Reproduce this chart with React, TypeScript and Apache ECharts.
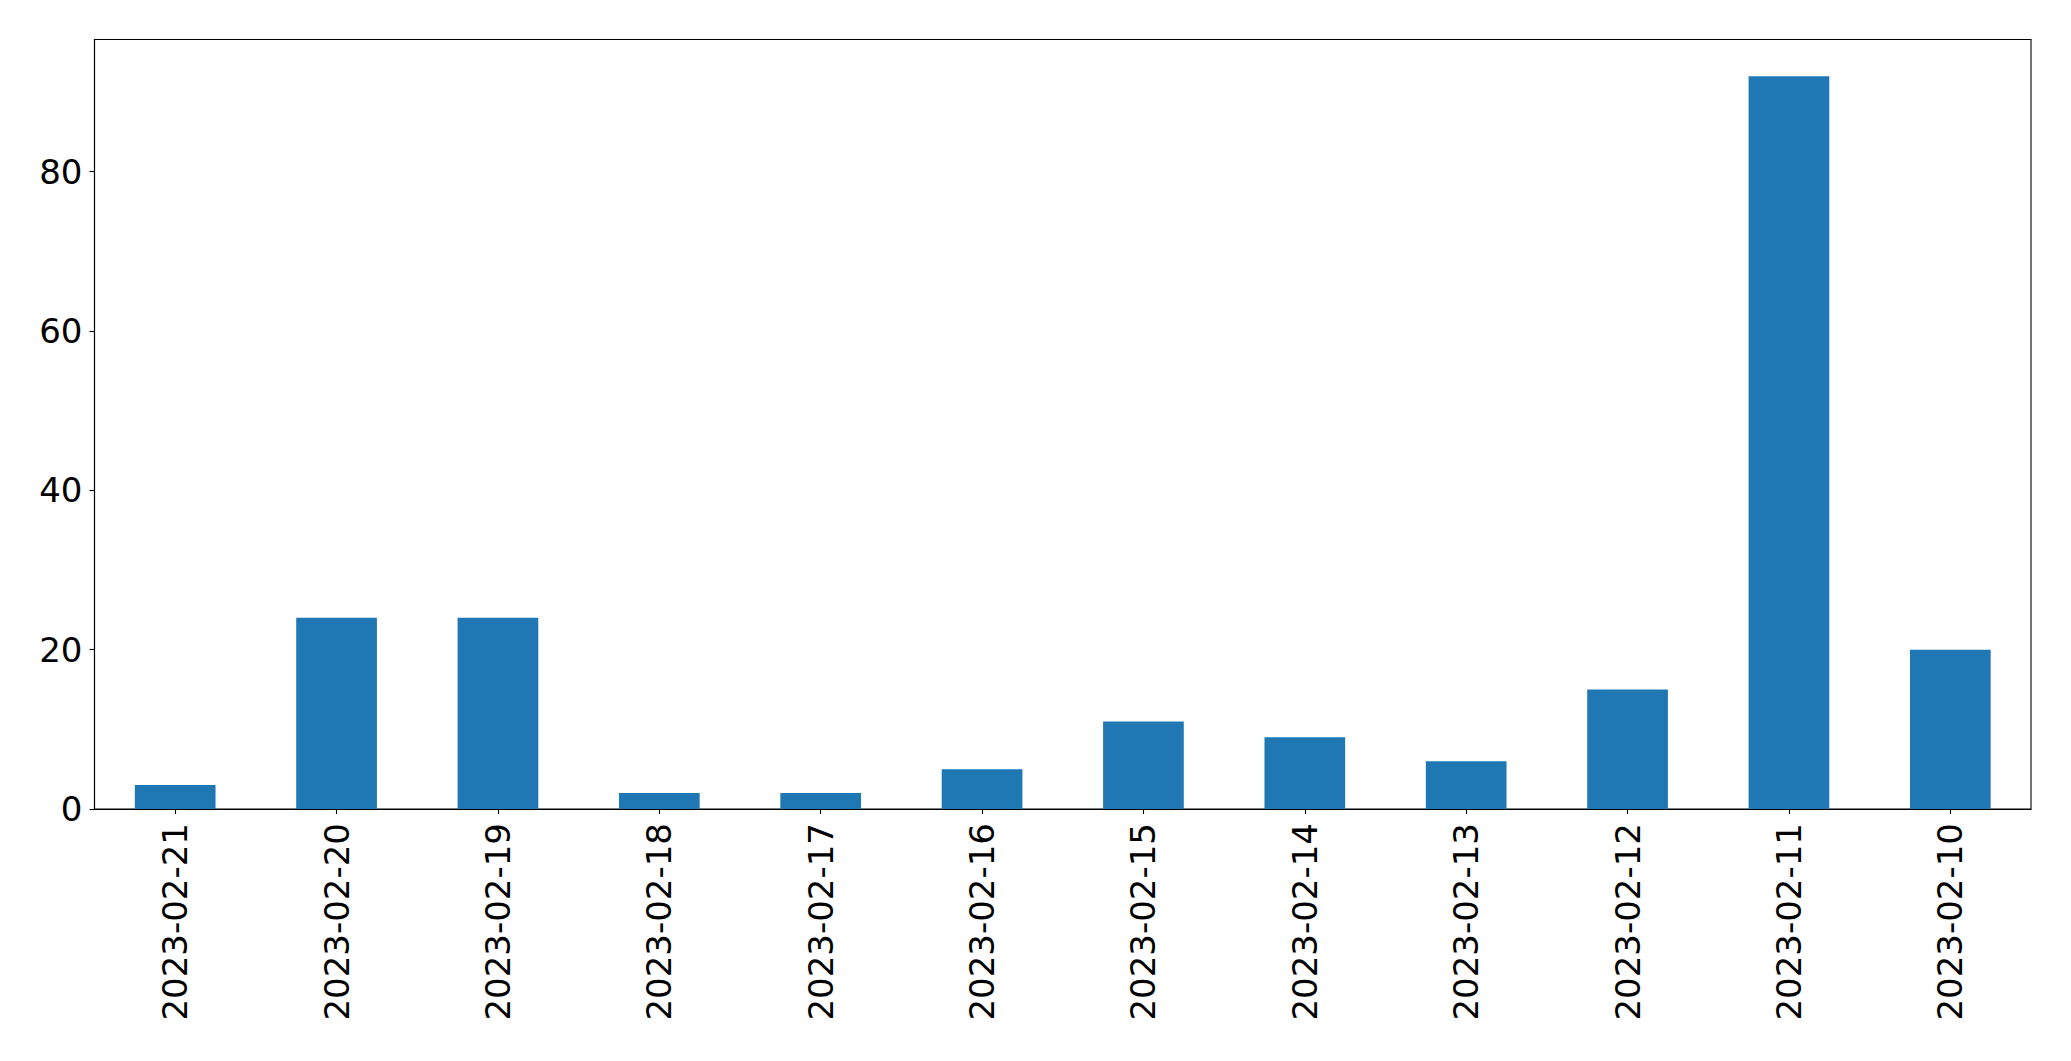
import React, { useEffect, useRef } from "react";
import * as echarts from "echarts";

const categories = [
  "2023-02-21", "2023-02-20", "2023-02-19", "2023-02-18", "2023-02-17", "2023-02-16",
  "2023-02-15", "2023-02-14", "2023-02-13", "2023-02-12", "2023-02-11", "2023-02-10",
];
const values = [3, 24, 24, 2, 2, 5, 11, 9, 6, 15, 92, 20];
const yTicks = [0, 20, 40, 60, 80];
const yMax = 96.6;

export default function App() {
  const ref = useRef<HTMLDivElement>(null);
  useEffect(() => {
    if (!ref.current) return;
    const chart = echarts.init(ref.current, null, { renderer: "svg" });
    const font = "DejaVu Sans";
    chart.setOption({
      animation: false,
      backgroundColor: "#ffffff",
      grid: {
        left: 94.5,
        top: 39.5,
        right: 40,
        bottom: 252,
        show: true,
        borderColor: "#000000",
        borderWidth: 1.1,
        backgroundColor: "transparent",
      },
      xAxis: {
        type: "category",
        data: categories,
        boundaryGap: true,
        axisLine: { show: true, lineStyle: { color: "#000000", width: 1.1 } },
        axisTick: { show: true, alignWithLabel: true, length: 5, lineStyle: { color: "#000000", width: 1.1 } },
        axisLabel: {
          rotate: 90,
          fontSize: 34,
          fontFamily: font,
          color: "#000000",
          margin: 14,
          interval: 0,
        },
        splitLine: { show: false },
      },
      yAxis: {
        type: "value",
        min: 0,
        max: yMax,
        axisLine: { show: true, lineStyle: { color: "#000000", width: 1.1 } },
        axisTick: { show: true, length: 5, customValues: yTicks, lineStyle: { color: "#000000", width: 1.1 } },
        axisLabel: {
          fontSize: 34,
          fontFamily: font,
          color: "#000000",
          margin: 12,
          customValues: yTicks,
        },
        splitLine: { show: false },
      },
      series: [
        {
          type: "bar",
          data: values,
          barWidth: "50%",
          itemStyle: { color: "#1f77b4" },
        },
      ],
    });
    return () => chart.dispose();
  }, []);
  return (
    <div
      ref={ref}
      style={{ position: "fixed", left: 0, top: 0, width: 2071, height: 1061, background: "#ffffff" }}
    />
  );
}
